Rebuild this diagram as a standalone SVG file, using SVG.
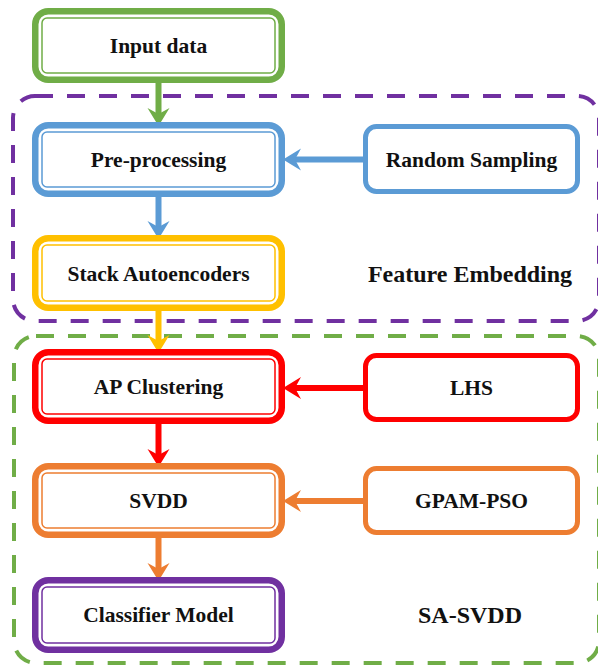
<svg xmlns="http://www.w3.org/2000/svg" width="598" height="669" viewBox="0 0 598 669">
<style>
  text { font-family: "Liberation Serif", "Times New Roman", serif; font-weight: bold; font-size: 21.5px; fill: #111; text-anchor: middle; }
  text.label { font-size: 24px; }
  .thick { fill: #fff; stroke-width: 6.5; }
  .thin { fill: none; stroke-width: 1.5; }
  .side { fill: #fff; stroke-width: 5; }
  .grp { fill: none; stroke-width: 4; stroke-dasharray: 18 14; }
  .conn { fill: none; stroke-width: 6; }
  .green { stroke: #70AD47; } .blue { stroke: #5B9BD5; } .yellow { stroke: #FFC000; }
  .red { stroke: #FF0000; } .orange { stroke: #ED7D31; } .purple { stroke: #7030A0; }
</style>
<defs>
  <marker id="ah-green" markerUnits="userSpaceOnUse" viewBox="-10 -12 24 24" markerWidth="24" markerHeight="24" refX="0" refY="0" orient="auto" overflow="visible"><path d="M12,0 L-6,-11 L0,0 L-6,11 Z" fill="#70AD47"/></marker>
  <marker id="ah-blue" markerUnits="userSpaceOnUse" viewBox="-10 -12 24 24" markerWidth="24" markerHeight="24" refX="0" refY="0" orient="auto" overflow="visible"><path d="M12,0 L-6,-11 L0,0 L-6,11 Z" fill="#5B9BD5"/></marker>
  <marker id="ah-yellow" markerUnits="userSpaceOnUse" viewBox="-10 -12 24 24" markerWidth="24" markerHeight="24" refX="0" refY="0" orient="auto" overflow="visible"><path d="M12,0 L-6,-11 L0,0 L-6,11 Z" fill="#FFC000"/></marker>
  <marker id="ah-red" markerUnits="userSpaceOnUse" viewBox="-10 -12 24 24" markerWidth="24" markerHeight="24" refX="0" refY="0" orient="auto" overflow="visible"><path d="M12,0 L-6,-11 L0,0 L-6,11 Z" fill="#FF0000"/></marker>
  <marker id="ah-orange" markerUnits="userSpaceOnUse" viewBox="-10 -12 24 24" markerWidth="24" markerHeight="24" refX="0" refY="0" orient="auto" overflow="visible"><path d="M12,0 L-6,-11 L0,0 L-6,11 Z" fill="#ED7D31"/></marker>
</defs>
<rect width="598" height="669" fill="#fff"/>

<g id="group-feature-embedding">
  <rect class="grp purple" x="13" y="96" width="586" height="225" rx="22"/>
  <text class="label" x="470" y="282">Feature Embedding</text>
</g>
<g id="group-sa-svdd">
  <rect class="grp green" x="14" y="336" width="585" height="327" rx="22"/>
  <text class="label" x="470" y="623">SA-SVDD</text>
</g>

<g id="connectors">
  <line class="conn green" x1="158.5" y1="83" x2="158.5" y2="114" marker-end="url(#ah-green)"/>
  <line class="conn blue" x1="158.5" y1="197" x2="158.5" y2="227" marker-end="url(#ah-blue)"/>
  <line class="conn yellow" x1="158.5" y1="311" x2="158.5" y2="341" marker-end="url(#ah-yellow)"/>
  <line class="conn red" x1="158.5" y1="424" x2="158.5" y2="455" marker-end="url(#ah-red)"/>
  <line class="conn orange" x1="158.5" y1="538" x2="158.5" y2="569" marker-end="url(#ah-orange)"/>
  <line class="conn blue" x1="364" y1="159.5" x2="295" y2="159.5" marker-end="url(#ah-blue)"/>
  <line class="conn red" x1="364" y1="388" x2="295" y2="388" marker-end="url(#ah-red)"/>
  <line class="conn orange" x1="364" y1="501" x2="295" y2="501" marker-end="url(#ah-orange)"/>
</g>

<g id="node-input-data">
  <rect class="thick green" x="35.25" y="11.25" width="246.5" height="68.5" rx="13"/>
  <rect class="thin green" x="42" y="18" width="233" height="55" rx="5"/>
  <text x="158.5" y="53">Input data</text>
</g>
<g id="node-pre-processing">
  <rect class="thick blue" x="35.25" y="125.25" width="246.5" height="68.5" rx="13"/>
  <rect class="thin blue" x="42" y="132" width="233" height="55" rx="5"/>
  <text x="158.5" y="167">Pre-processing</text>
</g>
<g id="node-stack-autoencoders">
  <rect class="thick yellow" x="35.25" y="238.25" width="246.5" height="69.5" rx="13"/>
  <rect class="thin yellow" x="42" y="245" width="233" height="56" rx="5"/>
  <text x="158.5" y="281">Stack Autoencoders</text>
</g>
<g id="node-ap-clustering">
  <rect class="thick red" x="35.25" y="352.25" width="246.5" height="68.5" rx="13"/>
  <rect class="thin red" x="42" y="359" width="233" height="55" rx="5"/>
  <text x="158.5" y="394">AP Clustering</text>
</g>
<g id="node-svdd">
  <rect class="thick orange" x="35.25" y="466.25" width="246.5" height="68.5" rx="13"/>
  <rect class="thin orange" x="42" y="473" width="233" height="55" rx="5"/>
  <text x="158.5" y="508">SVDD</text>
</g>
<g id="node-classifier-model">
  <rect class="thick purple" x="35.25" y="580.25" width="246.5" height="69.5" rx="13"/>
  <rect class="thin purple" x="42" y="587" width="233" height="56" rx="5"/>
  <text x="158.5" y="622">Classifier Model</text>
</g>

<g id="node-random-sampling">
  <rect class="side blue" x="365.5" y="126.5" width="212" height="65" rx="11"/>
  <text x="471.5" y="167">Random Sampling</text>
</g>
<g id="node-lhs">
  <rect class="side red" x="365.5" y="355.5" width="212" height="64" rx="11"/>
  <text x="471.5" y="395">LHS</text>
</g>
<g id="node-gpam-pso">
  <rect class="side orange" x="365.5" y="468.5" width="212" height="64" rx="11"/>
  <text x="471.5" y="508">GPAM-PSO</text>
</g>
</svg>
